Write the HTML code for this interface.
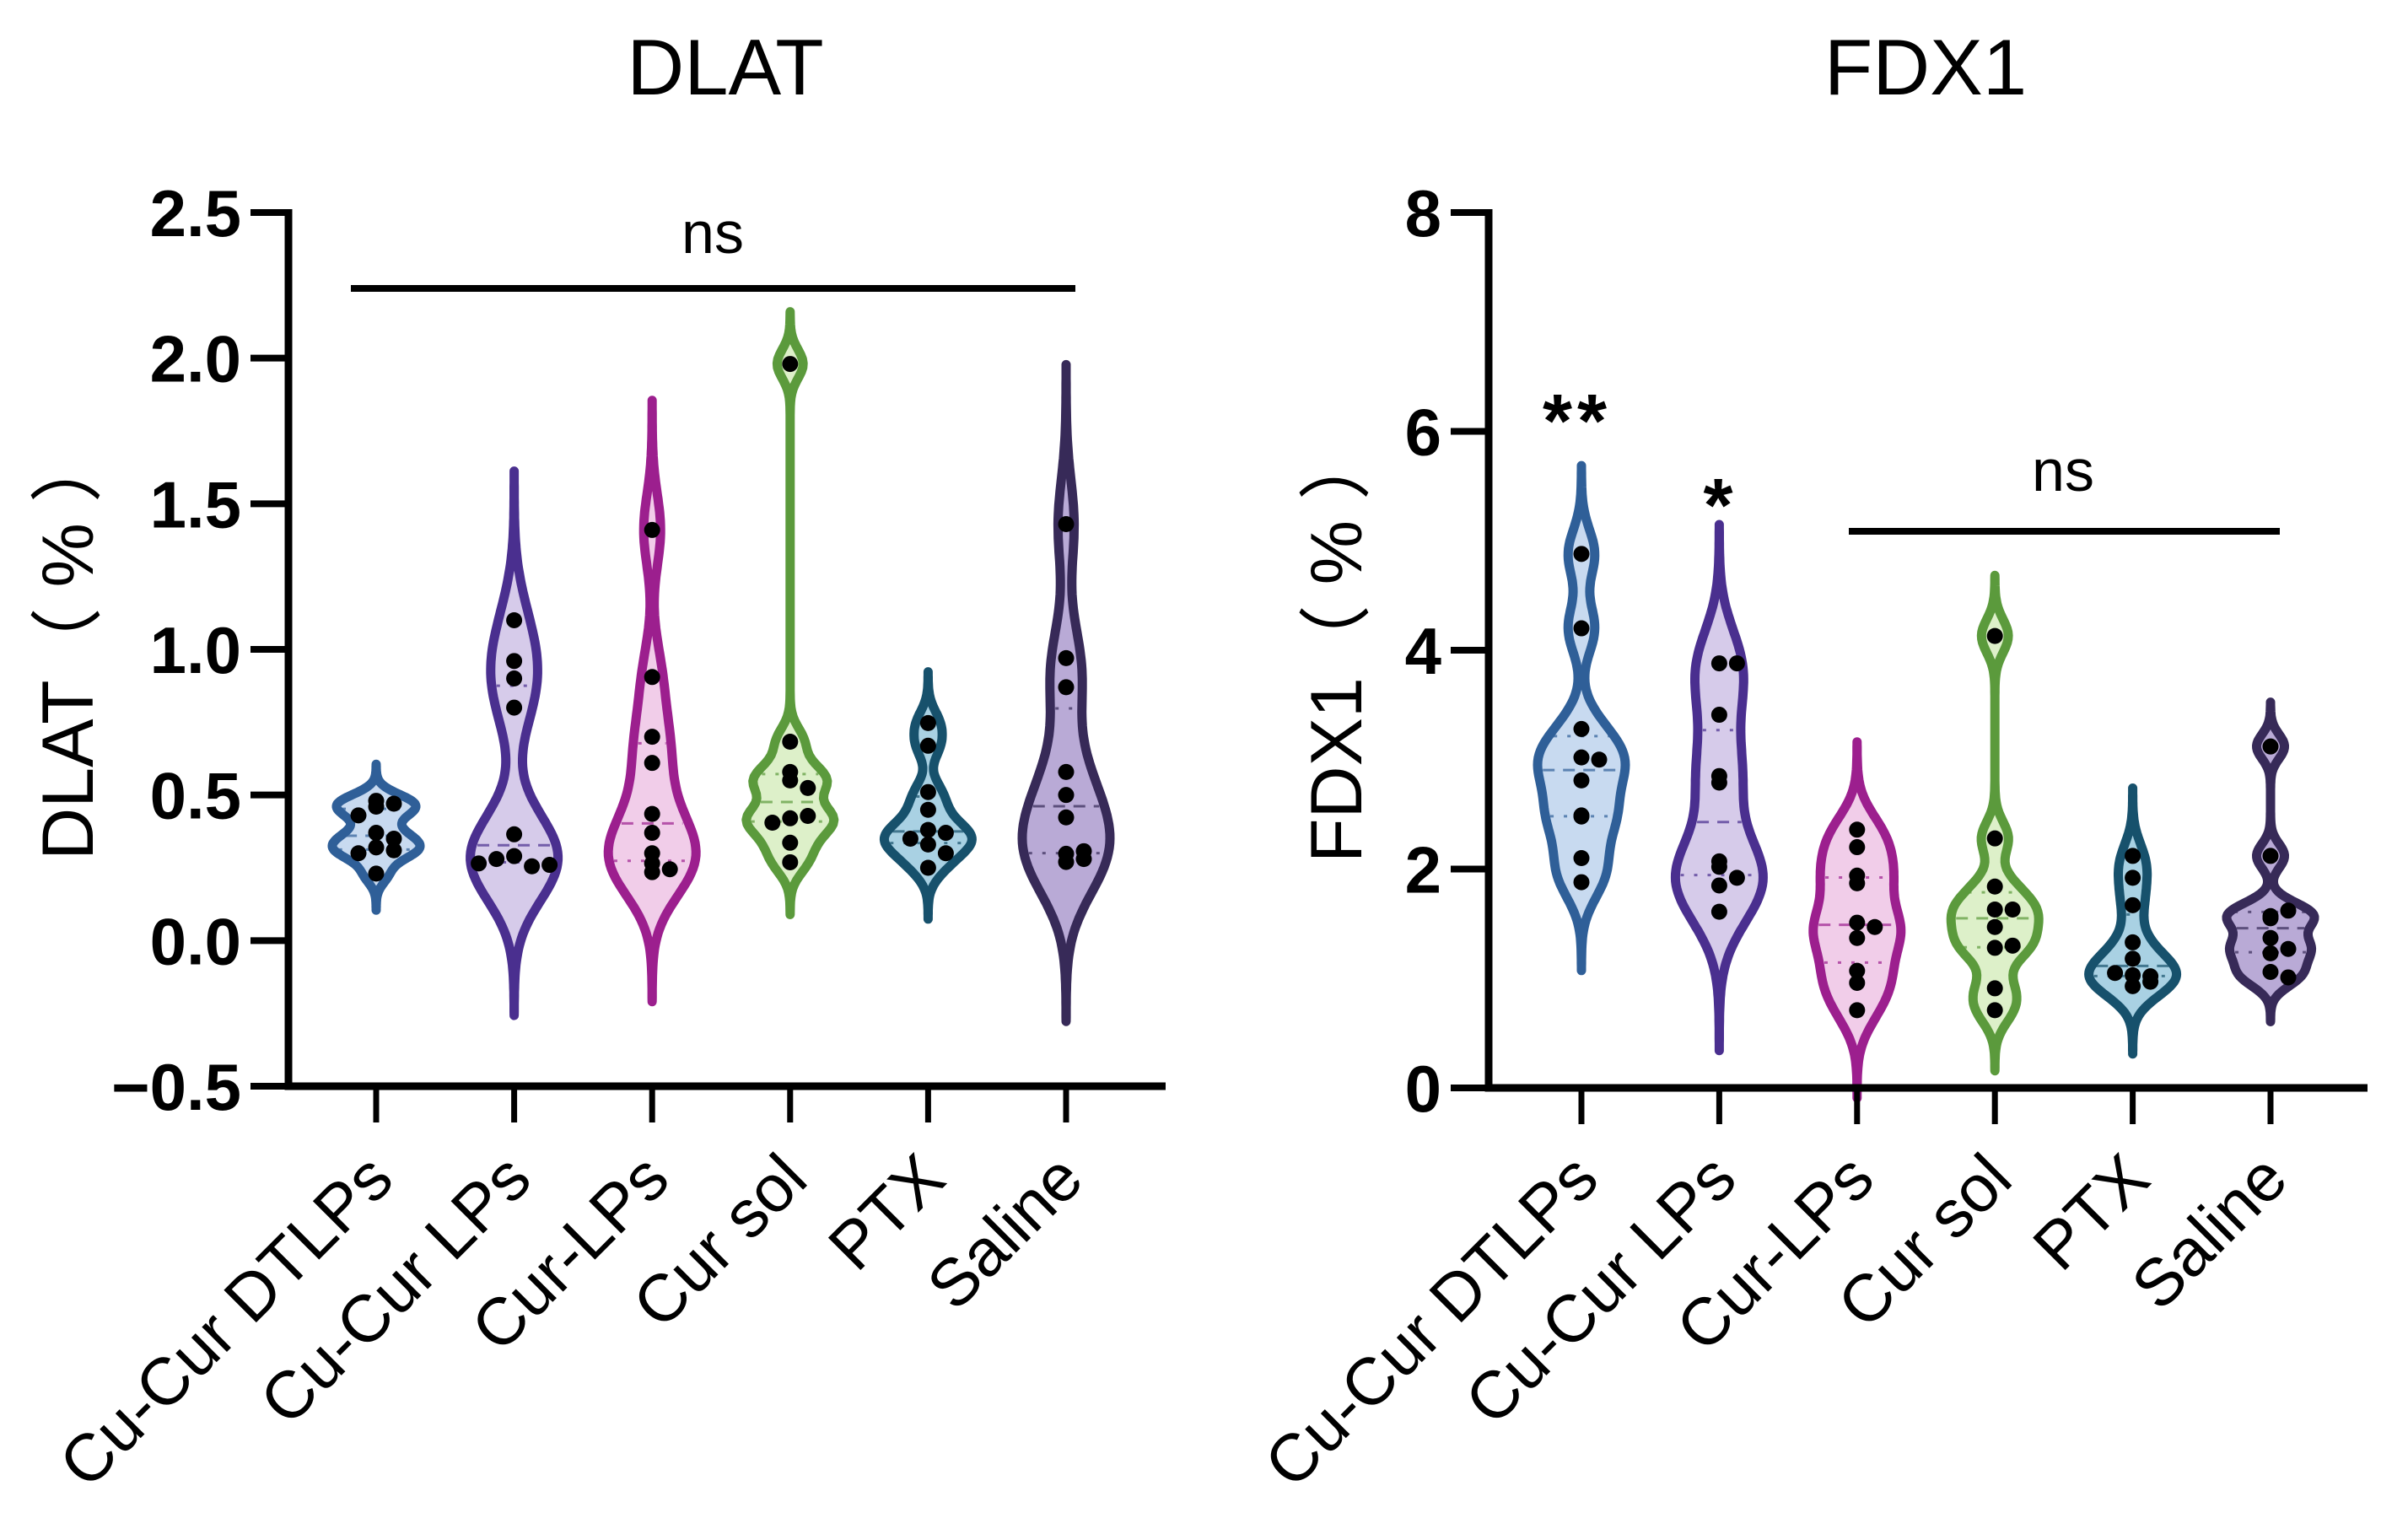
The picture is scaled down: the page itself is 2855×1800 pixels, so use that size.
<!DOCTYPE html>
<html><head><meta charset="utf-8">
<style>
html,body{margin:0;padding:0;background:#fff;}
svg{display:block;}
text{font-family:"Liberation Sans","Noto Sans CJK SC",Arial,sans-serif;fill:#000;}
</style></head>
<body>
<svg id="chart" width="2855" height="1800" viewBox="0 0 2855 1800" xmlns="http://www.w3.org/2000/svg">
<g id="panelL"></g>
<g id="panelR"></g>
</svg>
<script>
const categories = ["Cu-Cur DTLPs","Cu-Cur LPs","Cur-LPs","Cur sol","PTX","Saline"];
const dlatTicks = [-0.5,0,0.5,1.0,1.5,2.0,2.5];
const dlatTickLabels = ["\u22120.5","0.0","0.5","1.0","1.5","2.0","2.5"];
const fdx1Ticks = [0,2,4,6,8];
const fdx1TickLabels = ["0","2","4","6","8"];
const dlatG1 = [0.48,0.46,0.47,0.43,0.37,0.35,0.32,0.31,0.30,0.23];
const dlatG2 = [1.10,0.96,0.90,0.80,0.365,0.29,0.255,0.28,0.26,0.265];
const dlatG3 = [1.41,0.905,0.70,0.61,0.435,0.37,0.30,0.265,0.235,0.245];
const dlatG4 = [1.98,0.683,0.579,0.550,0.524,0.420,0.428,0.405,0.336,0.269];
const dlatG5 = [0.747,0.669,0.51,0.449,0.38,0.37,0.35,0.33,0.30,0.25];
const dlatG6 = [1.43,0.97,0.87,0.579,0.50,0.423,0.298,0.27,0.307,0.28];
const fdx1G1 = [4.88,4.20,3.28,3.02,3.00,2.81,2.48,2.49,2.10,1.88];
const fdx1G2 = [3.88,3.88,3.41,2.85,2.79,2.07,2.02,1.92,1.85,1.61];
const fdx1G3 = [2.36,2.20,1.94,1.87,1.51,1.47,1.37,1.07,0.96,0.71];
const fdx1G4 = [4.13,2.28,1.84,1.63,1.63,1.47,1.28,1.30,0.91,0.71];
const fdx1G5 = [2.12,1.92,1.67,1.33,1.18,1.03,0.93,1.02,1.05,0.97];
const fdx1G6 = [3.12,2.12,1.55,1.57,1.62,1.37,1.23,1.27,1.06,1.01];

const strokes = ["#2f5f98","#4a2f8f","#9c1f8e","#5b9a3c","#17516c","#372a58"];
const fills = ["#c8daf0","#d6cbea","#f1cde9","#ddf0c9","#a9d1e3","#b9aad6"];
const NS = "http://www.w3.org/2000/svg";
function mk(tag, attrs, parent){const e=document.createElementNS(NS,tag);for(const k in attrs)e.setAttribute(k,attrs[k]);parent.appendChild(e);return e;}

function quant(a,p){const s=[...a].sort((x,y)=>x-y);const h=(s.length-1)*p;const lo=Math.floor(h);return s[lo]+(s[Math.min(lo+1,s.length-1)]-s[lo])*(h-lo);}

function drawPanel(g, cfg){
  const {x0,x1,yTop,yBot,vmin,vmax,ticks,tickLabels,groups,title,titleX,ytitle,ytitleX,cats0,catStep,prefix} = cfg;
  const ys = v => yBot - (v - vmin)/(vmax - vmin)*(yBot - yTop);
  const xs = i => cats0 + i*catStep;
  groups.forEach((d,i)=>{
    const n=d.length, mean=d.reduce((a,b)=>a+b,0)/n;
    const sd=Math.sqrt(d.reduce((a,b)=>a+(b-mean)**2,0)/(n-1));
    const iqr=quant(d,0.75)-quant(d,0.25);
    const bw=0.65*Math.min(sd, iqr/1.34 || sd)*Math.pow(n,-0.2);
    const lo=Math.min(...d)-3.6*bw, hi=Math.max(...d)+3.6*bw;
    const N=140, dens=[];
    for(let k=0;k<=N;k++){const v=lo+(hi-lo)*k/N;let s=0;d.forEach(p=>{s+=Math.exp(-0.5*((v-p)/bw)**2);});dens.push([v,s]);}
    const mx=Math.max(...dens.map(q=>q[1]));
    const hw=52, cx=xs(i);
    let pts=dens.map(q=>[cx+q[1]/mx*hw, ys(q[0])]);
    let ptsL=dens.map(q=>[cx-q[1]/mx*hw, ys(q[0])]).reverse();
    const all=pts.concat(ptsL);
    const vg=mk('g',{},g);
    
    
    const path=mk('path',{d:'M'+all.map(p=>p[0].toFixed(1)+','+p[1].toFixed(1)).join('L')+'Z',fill:fills[i],stroke:strokes[i],'stroke-width':11,'stroke-linejoin':'round'},vg);
    
    
    const wAt = v => {let best=dens[0];dens.forEach(q=>{if(Math.abs(q[0]-v)<Math.abs(best[0]-v))best=q;});return best[1]/mx*hw;};
    [[0.5,'14,10',3],[0.25,'4,12',3],[0.75,'4,12',3]].forEach(([p,da,sw])=>{
      const v=quant(d,p), w=wAt(v)-6;
      const ln=mk('line',{x1:cx-w,x2:cx+w,y1:ys(v),y2:ys(v),stroke:strokes[i],'stroke-width':sw,'stroke-dasharray':da,opacity:0.7},vg);
      
      
    });
    const used={};
    d.forEach(v=>{
      const key=Math.round(ys(v)/15);
      const c=used[key]||0; used[key]=c+1;
      const off = c===0?0:(c%2?1:-1)*Math.ceil(c/2)*21;
      const dot=mk('circle',{cx:cx+off,cy:ys(v),r:9.5,fill:'#000'},vg);
      
      
    });
  });
  const ax=mk('g',{},g);
  
  
  mk('line',{x1:x0,x2:x0,y1:yTop-4,y2:yBot+4.5,stroke:'#000','stroke-width':9},ax);
  mk('line',{x1:x0-4.5,x2:x1,y1:yBot,y2:yBot,stroke:'#000','stroke-width':9},ax);
  ticks.forEach((t,k)=>{
    mk('line',{x1:x0-45,x2:x0,y1:ys(t),y2:ys(t),stroke:'#000','stroke-width':8},ax);
    const tl=mk('text',{x:x0-56,y:ys(t)+28,'text-anchor':'end','font-size':78,'font-weight':'bold'},ax);
    tl.textContent=tickLabels[k];
    
    
  });
  categories.forEach((c,i)=>{
    mk('line',{x1:xs(i),x2:xs(i),y1:yBot,y2:yBot+43,stroke:'#000','stroke-width':7},ax);
    const ax2=xs(i)+24, ay=1402;
    const tl=mk('text',{x:ax2,y:ay,'text-anchor':'end','font-size':79,transform:`rotate(-45 ${ax2} ${ay})`},ax);
    tl.textContent=c;
    
    
  });
  const t=mk('text',{x:titleX,y:112,'text-anchor':'middle','font-size':94},g);
  t.textContent=title;
  
  
  const yt=mk('text',{x:ytitleX,y:765,'text-anchor':'middle','font-size':86,transform:`rotate(-90 ${ytitleX} 765)`},g);
  yt.textContent=ytitle;
  
  
  return {ys,xs};
}

drawPanel(document.getElementById('panelL'),{x0:342,x1:1382,yTop:252,yBot:1288,vmin:-0.5,vmax:2.5,ticks:dlatTicks,tickLabels:dlatTickLabels,
  groups:[dlatG1,dlatG2,dlatG3,dlatG4,dlatG5,dlatG6],title:"DLAT",titleX:860,ytitle:"DLAT\uFF08 % \uFF09",ytitleX:110,cats0:446,catStep:163.6,prefix:'dlat'});
drawPanel(document.getElementById('panelR'),{x0:1765,x1:2807,yTop:252,yBot:1290,vmin:0,vmax:8,ticks:fdx1Ticks,tickLabels:fdx1TickLabels,
  groups:[fdx1G1,fdx1G2,fdx1G3,fdx1G4,fdx1G5,fdx1G6],title:"FDX1",titleX:2283,ytitle:"FDX1\uFF08 % \uFF09",ytitleX:1614,cats0:1875,catStep:163.4,prefix:'fdx1'});

const pl=document.getElementById('panelL'), pr=document.getElementById('panelR');
let b=mk('line',{x1:416,x2:1275,y1:342,y2:342,stroke:'#000','stroke-width':8},pl);


let s=mk('text',{x:845,y:300,'text-anchor':'middle','font-size':70},pl); s.textContent='ns';


b=mk('line',{x1:2192,x2:2703,y1:630,y2:630,stroke:'#000','stroke-width':8},pr);


s=mk('text',{x:2446,y:582,'text-anchor':'middle','font-size':70},pr); s.textContent='ns';


s=mk('text',{x:1870,y:530,'text-anchor':'middle','font-size':90,'font-weight':'bold','letter-spacing':'6'},pr); s.textContent='**';


s=mk('text',{x:2037,y:630,'text-anchor':'middle','font-size':90,'font-weight':'bold'},pr); s.textContent='*';


</script>
</body></html>
